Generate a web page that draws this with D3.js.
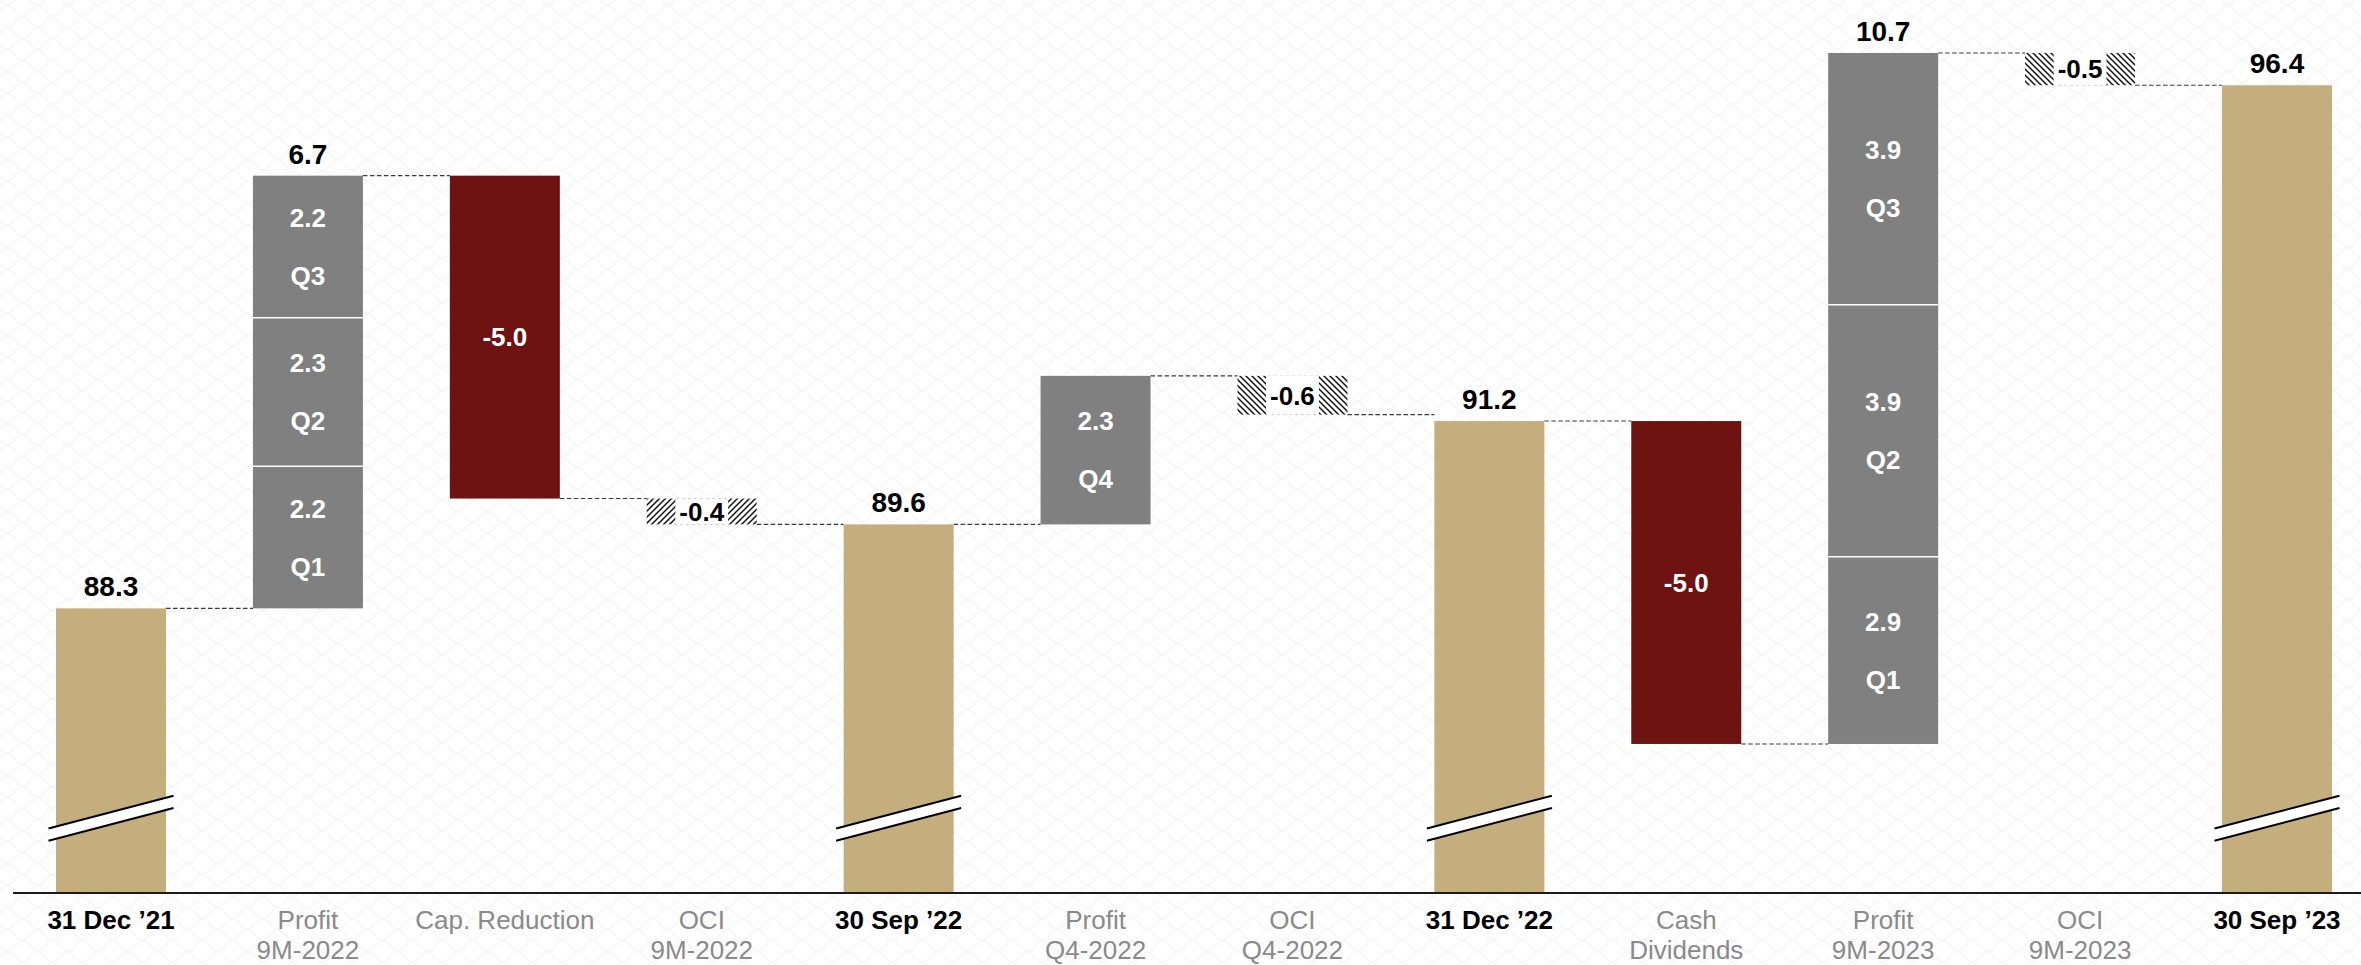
<!DOCTYPE html>
<html>
<head>
<meta charset="utf-8">
<script src="https://cdn.jsdelivr.net/npm/d3@7"></script>
<style>
  html, body { margin: 0; padding: 0; background: #ffffff; }
  svg { display: block; font-family: "Liberation Sans", Arial, Helvetica, sans-serif; }
</style>
</head>
<body>
<svg id="chart" width="2361" height="965"></svg>
<script>
// Equity bridge, Dec 2021 -> Sep 2023 (values in billions)
const categories = [
  "31 Dec ’21", "Profit 9M-2022", "Cap. Reduction", "OCI 9M-2022",
  "30 Sep ’22", "Profit Q4-2022", "OCI Q4-2022", "31 Dec ’22",
  "Cash Dividends", "Profit 9M-2023", "OCI 9M-2023", "30 Sep ’23"
];
const categoryLines = [
  ["31 Dec ’21"], ["Profit", "9M-2022"], ["Cap. Reduction"], ["OCI", "9M-2022"],
  ["30 Sep ’22"], ["Profit", "Q4-2022"], ["OCI", "Q4-2022"], ["31 Dec ’22"],
  ["Cash", "Dividends"], ["Profit", "9M-2023"], ["OCI", "9M-2023"], ["30 Sep ’23"]
];
const kinds = [
  "balance", "profit", "reduction", "oci",
  "balance", "profit", "oci", "balance",
  "reduction", "profit", "oci", "balance"
];
const values = [88.3, 6.7, -5.0, -0.4, 89.6, 2.3, -0.6, 91.2, -5.0, 10.7, -0.5, 96.4];
const quarterNames = [[], ["Q1", "Q2", "Q3"], [], [], [], ["Q4"], [], [], [], ["Q1", "Q2", "Q3"], [], []];
const quarterValues = [[], [2.2, 2.3, 2.2], [], [], [], [2.3], [], [], [], [2.9, 3.9, 3.9], [], []];
const axisFloor = 83.9;   // value where the broken axis starts
const axisTop = 97.72;
const breakValue = 85.05; // where the axis-break symbol sits on balance bars

const W = 2361, H = 965;
const svg = d3.select("#chart");

const fmt = d3.formatLocale({decimal: ".", thousands: ",", grouping: [3], currency: ["", ""], minus: "-"}).format(".1f");

const x = d3.scaleBand().domain(categories).range([12.5, 2375.5]).paddingInner(0.4413).paddingOuter(0.221);
const y = d3.scaleLinear().domain([axisFloor, axisTop]).range([892.5, 0]);
const bw = x.bandwidth();

const COLORS = { balance: "#c5ae7e", profit: "#808080", reduction: "#6e1212" };

// ---- defs: background texture + hatches
const defs = svg.append("defs");
const bg = defs.append("pattern").attr("id", "bgtex").attr("patternUnits", "userSpaceOnUse")
  .attr("width", 30).attr("height", 22);
bg.append("path")
  .attr("d", "M0,11 Q7.5,1 15,11 T30,11 M-15,22 Q-7.5,12 0,22 T15,22 T30,22 M-15,0 Q-7.5,-10 0,0 T15,0 T30,0")
  .attr("fill", "none").attr("stroke", "#f4f4f4").attr("stroke-width", 1.2);

function hatch(id, forward) {
  const p = defs.append("pattern").attr("id", id).attr("patternUnits", "userSpaceOnUse")
    .attr("width", 6).attr("height", 6);
  p.append("rect").attr("width", 6).attr("height", 6).attr("fill", "#ffffff");
  p.append("path")
    .attr("d", forward ? "M-1,1 l2,-2 M0,6 l6,-6 M5,7 l2,-2" : "M-1,5 l2,2 M0,0 l6,6 M5,-1 l2,2")
    .attr("stroke", "#111").attr("stroke-width", 1.5);
}
hatch("hatch-up", true);
hatch("hatch-down", false);

svg.append("rect").attr("width", W).attr("height", H).attr("fill", "#ffffff");
svg.append("rect").attr("width", W).attr("height", H).attr("fill", "url(#bgtex)");

// ---- compute waterfall levels
let level = 0;
const bars = categories.map((c, i) => {
  const v = values[i];
  let start, end;
  if (kinds[i] === "balance") { start = axisFloor; end = v; level = v; }
  else { start = level; end = level + v; level = end; }
  return { cat: c, i, kind: kinds[i], v, start, end };
});

// ---- connectors
const gConn = svg.append("g");
bars.slice(0, -1).forEach((b, i) => {
  const lvl = b.end;
  gConn.append("line")
    .attr("x1", x(b.cat) + bw).attr("x2", x(categories[i + 1]))
    .attr("y1", y(lvl)).attr("y2", y(lvl))
    .attr("stroke", "#3a3a3a").attr("stroke-width", 1.1).attr("stroke-dasharray", "4.5,2.5");
});

// ---- bars
const gBars = svg.append("g");
bars.forEach(b => {
  const x0 = x(b.cat), xc = x0 + bw / 2;
  const top = y(Math.max(b.start, b.end)), bot = y(Math.min(b.start, b.end));
  if (b.kind === "balance") {
    gBars.append("rect").attr("x", x0).attr("y", top).attr("width", bw).attr("height", bot - top)
      .attr("fill", COLORS.balance);
    gBars.append("text").attr("x", xc).attr("y", top - 12).attr("text-anchor", "middle")
      .attr("font-size", 28).attr("font-weight", "bold").attr("fill", "#000").text(fmt(b.v));
    // axis-break symbol
    const yb = y(breakValue), hw = bw / 2 + 7.5;
    const k = 16.35, g = 6.1;
    gBars.append("path")
      .attr("d", `M${xc - hw},${yb - g + k} L${xc + hw},${yb - g - k} L${xc + hw},${yb + g - k} L${xc - hw},${yb + g + k} Z`)
      .attr("fill", "#ffffff");
    [-g, g].forEach(off => {
      gBars.append("line")
        .attr("x1", xc - hw).attr("y1", yb + off + k).attr("x2", xc + hw).attr("y2", yb + off - k)
        .attr("stroke", "#000").attr("stroke-width", 2);
    });
  } else if (b.kind === "profit") {
    let acc = b.start;
    const qs = quarterValues[b.i];
    qs.forEach((q, j) => {
      const s0 = acc, s1 = acc + q; acc = s1;
      const yt = y(s1), yB = y(s0), ym = (yt + yB) / 2;
      gBars.append("rect").attr("x", x0).attr("y", yt).attr("width", bw).attr("height", yB - yt)
        .attr("fill", COLORS.profit);
      if (j > 0) {
        gBars.append("line").attr("x1", x0).attr("x2", x0 + bw).attr("y1", yB).attr("y2", yB)
          .attr("stroke", "#ffffff").attr("stroke-width", 1.5);
      }
      gBars.append("text").attr("x", xc).attr("y", ym - 29).attr("dy", "0.36em")
        .attr("text-anchor", "middle").attr("font-size", 26).attr("font-weight", "bold")
        .attr("fill", "#ffffff").text(fmt(q));
      gBars.append("text").attr("x", xc).attr("y", ym + 29).attr("dy", "0.36em")
        .attr("text-anchor", "middle").attr("font-size", 26).attr("font-weight", "bold")
        .attr("fill", "#ffffff").text(quarterNames[b.i][j]);
    });
    if (qs.length > 1) {
      gBars.append("text").attr("x", xc).attr("y", top - 12).attr("text-anchor", "middle")
        .attr("font-size", 28).attr("font-weight", "bold").attr("fill", "#000").text(fmt(b.v));
    }
  } else if (b.kind === "reduction") {
    gBars.append("rect").attr("x", x0).attr("y", top).attr("width", bw).attr("height", bot - top)
      .attr("fill", COLORS.reduction);
    gBars.append("text").attr("x", xc).attr("y", (top + bot) / 2).attr("dy", "0.36em")
      .attr("text-anchor", "middle").attr("font-size", 26).attr("font-weight", "bold")
      .attr("fill", "#ffffff").text(fmt(b.v));
  } else if (b.kind === "oci") {
    const pat = b.i === 3 ? "hatch-up" : "hatch-down";
    gBars.append("rect").attr("x", x0).attr("y", top).attr("width", bw).attr("height", bot - top)
      .attr("fill", `url(#${pat})`);
    const box = gBars.append("rect").attr("y", top).attr("height", bot - top).attr("fill", "#ffffff");
    const t = gBars.append("text").attr("x", xc).attr("y", (top + bot) / 2).attr("dy", "0.36em")
      .attr("text-anchor", "middle").attr("font-size", 26).attr("font-weight", "bold")
      .attr("fill", "#000").text(fmt(b.v));
    const tw = t.node().getComputedTextLength() + 8;
    box.attr("x", xc - tw / 2).attr("width", tw);
  }
});

// ---- category axis
const axis = svg.append("g").attr("transform", `translate(0,${y(axisFloor)})`)
  .call(d3.axisBottom(x).tickSize(0).tickSizeOuter(0).tickFormat(""));
axis.select(".domain").attr("stroke", "#1a1a1a").attr("stroke-width", 2.2);
axis.selectAll(".tick text").remove();
axis.selectAll(".tick").each(function(c) {
  const i = categories.indexOf(c);
  const isBal = kinds[i] === "balance";
  const t = d3.select(this).append("text").attr("text-anchor", "middle")
    .attr("font-size", 26).attr("font-weight", isBal ? "bold" : "normal")
    .attr("fill", isBal ? "#000" : "#8a8a8a");
  categoryLines[i].forEach((line, j) => {
    t.append("tspan").attr("x", 0).attr("y", 36 + j * 30).text(line);
  });
});
</script>
</body>
</html>
